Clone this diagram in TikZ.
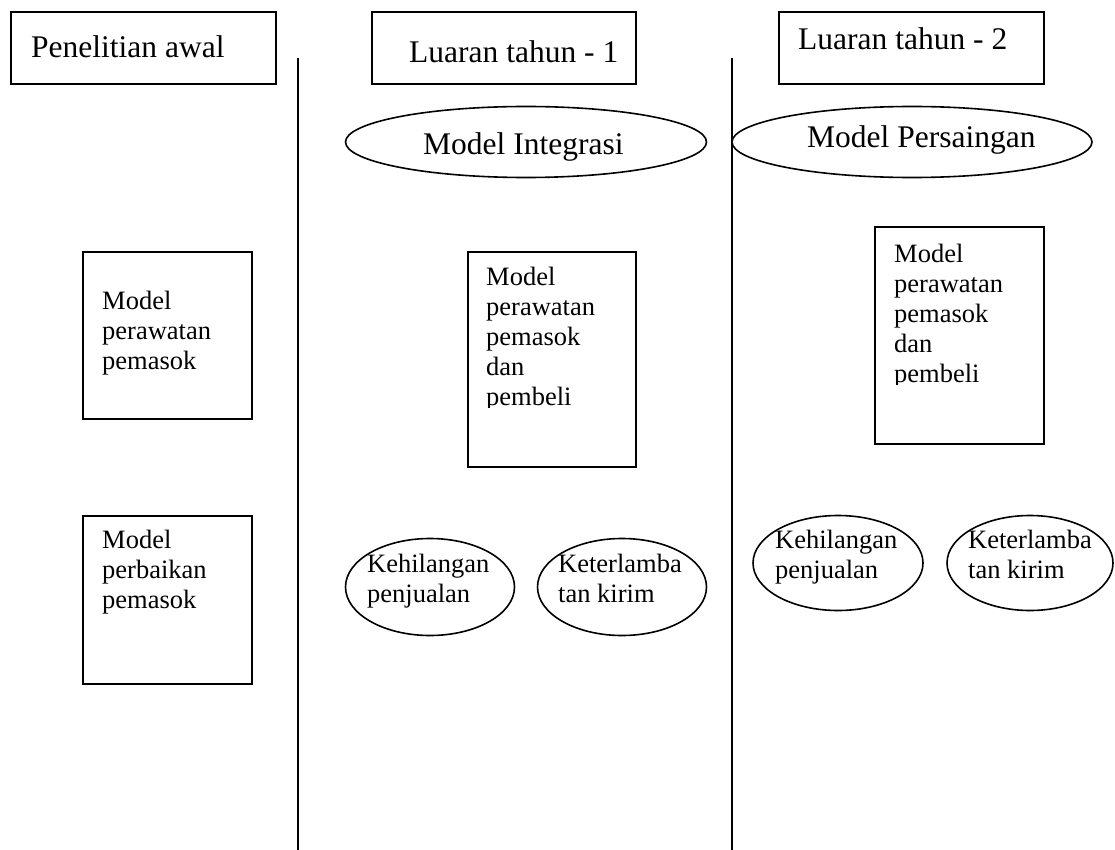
\documentclass[tikz,border=0pt]{standalone}
\usepackage{fontspec}
\setmainfont{Liberation Serif}
\usetikzlibrary{shapes.geometric}
\tikzset{
  frame/.style={draw, line width=1.6pt, inner sep=0pt, anchor=north west},
  oval/.style={draw, ellipse, line width=1.6pt, inner sep=0pt},
  bigtxt/.style={inner sep=0pt, anchor=base west, font=\fontsize{31.5}{36}\selectfont},
  smalltxt/.style={inner sep=0pt, anchor=base west, align=left, font=\fontsize{26.5}{30}\selectfont},
  divider/.style={line width=1.6pt}
}
\begin{document}
\begin{tikzpicture}[x=1pt,y=-1pt]
\useasboundingbox (0,0) rectangle (1115,850);
% dividers
\coordinate (d1t) at (298,58); \coordinate (d1b) at (298,850);
\coordinate (d2t) at (732,58); \coordinate (d2b) at (732,850);
\draw[divider] (d1t) -- (d1b);
\draw[divider] (d2t) -- (d2b);
% title boxes
\node[frame, minimum width=265, minimum height=72] (h0) at (10,11) {};
\node[bigtxt] (h0t) at (31,58) {Penelitian awal};
\node[frame, minimum width=264, minimum height=72] (h1) at (371,11) {};
\node[bigtxt] (h1t) at (409,63) {Luaran tahun - 1};
\node[frame, minimum width=265, minimum height=72] (h2) at (778,11) {};
\node[bigtxt] (h2t) at (798,50) {Luaran tahun - 2};
% top ellipses
\node[oval, minimum width=361, minimum height=71] (e1) at (526,142) {};
\node[bigtxt] (e1t) at (423,155) {Model Integrasi};
\node[oval, minimum width=360, minimum height=71] (e2) at (912,142) {};
\node[bigtxt] (e2t) at (807,148) {Model Persaingan};
% left column boxes
\node[frame, minimum width=169, minimum height=167] (l1) at (82,251) {};
\node[smalltxt] (l1t) at (102,369) {Model\\perawatan\\pemasok};
\node[frame, minimum width=169, minimum height=168] (l2) at (82,515) {};
\node[smalltxt] (l2t) at (102,608) {Model\\perbaikan\\pemasok};
% middle box
\node[frame, minimum width=168, minimum height=215] (m1) at (467,251) {};
\begin{scope}
\clip (467,251) rectangle (635,407);
\node[smalltxt] (m1t) at (486,405) {Model\\perawatan\\pemasok\\dan\\pembeli};
\end{scope}
% right box
\node[frame, minimum width=169, minimum height=217] (r1) at (874,226) {};
\begin{scope}
\clip (874,226) rectangle (1043,384);
\node[smalltxt] (r1t) at (894,382) {Model\\perawatan\\pemasok\\dan\\pembeli};
\end{scope}
% small ellipses
\node[oval, minimum width=169, minimum height=97] (s1) at (430,587) {};
\node[smalltxt] (s1t) at (367,602) {Kehilangan\\penjualan};
\node[oval, minimum width=169, minimum height=97] (s2) at (622,587) {};
\node[smalltxt] (s2t) at (558,602) {Keterlamba\\tan kirim};
\node[oval, minimum width=170, minimum height=95] (s3) at (838,563) {};
\node[smalltxt] (s3t) at (775,578) {Kehilangan\\penjualan};
\node[oval, minimum width=166, minimum height=95] (s4) at (1030,563) {};
\node[smalltxt] (s4t) at (968,578) {Keterlamba\\tan kirim};
\end{tikzpicture}
\end{document}
